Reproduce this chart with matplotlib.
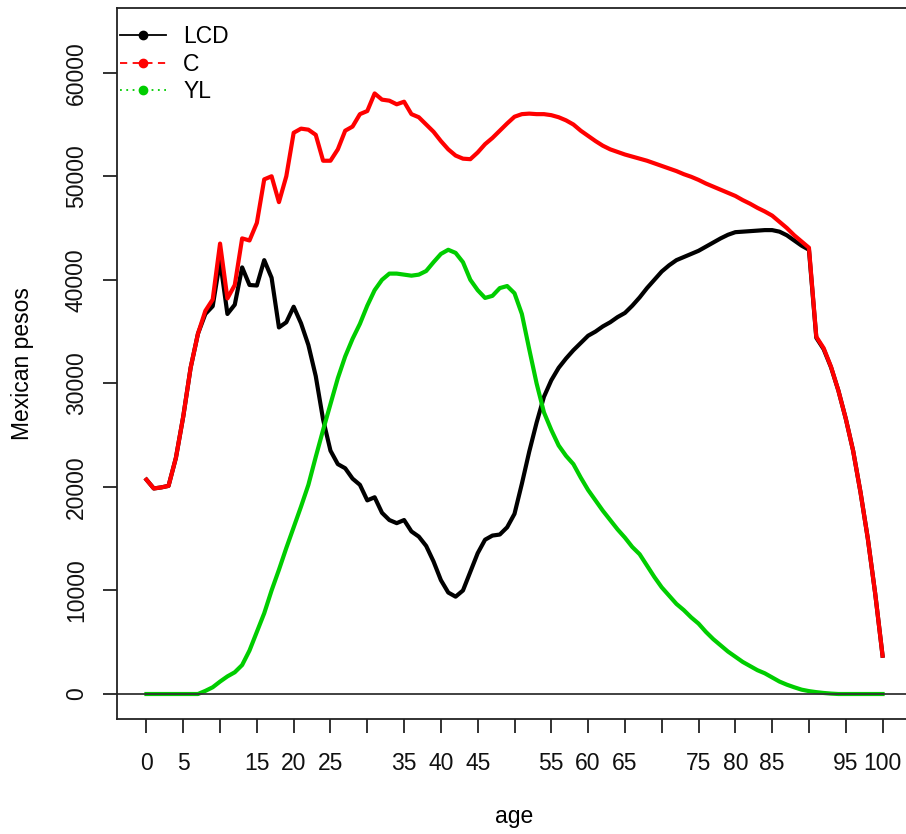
import matplotlib
matplotlib.use('Agg')
import matplotlib.pyplot as plt
from matplotlib.lines import Line2D
import numpy as np

plt.rcParams['font.family'] = ['Liberation Sans', 'DejaVu Sans']

# ages 0..100
age = list(range(0, 101))

C = [20700, 19850, 19950, 20100, 22800, 26800, 31500, 34800, 37000, 38100,
     43500, 38200, 39500, 44000, 43800, 45500, 49700, 50000, 47500, 50000,
     54200, 54600, 54500, 54000, 51500, 51500, 52600, 54400, 54800, 56000,
     56300, 58000, 57400, 57300, 56950, 57200, 56000, 55700, 55000, 54300,
     53400, 52600, 52000, 51700, 51650, 52300, 53100, 53700, 54400, 55100,
     55750, 56000, 56050, 56000, 56000, 55900, 55700, 55400, 55000, 54400,
     53900, 53400, 52950, 52600, 52350, 52100, 51900, 51700, 51500, 51250,
     51000, 50750, 50500, 50200, 49950, 49650, 49300, 49000, 48700, 48400,
     48100, 47700, 47350, 46950, 46600, 46200, 45600, 45000, 44300, 43700,
     43100, 34500, 33400, 31600, 29300, 26600, 23500, 19500, 15000, 9700,
     3700]

YL = [0, 0, 0, 0, 0, 0, 0, 0, 300, 650,
      1200, 1700, 2100, 2800, 4200, 6000, 7800, 10000, 12000, 14100,
      16100, 18100, 20200, 22900, 25500, 28000, 30500, 32600, 34300, 35750,
      37500, 39000, 40000, 40600, 40600, 40500, 40400, 40500, 40850, 41700,
      42500, 42900, 42600, 41700, 40000, 39000, 38250, 38450, 39200, 39400,
      38700, 36700, 33300, 30000, 27200, 25500, 24000, 23000, 22200, 20900,
      19700, 18700, 17700, 16800, 15900, 15100, 14200, 13500, 12400, 11300,
      10300, 9500, 8700, 8100, 7400, 6800, 6000, 5300, 4700, 4100,
      3600, 3100, 2700, 2300, 2000, 1600, 1200, 900, 650, 420,
      280, 180, 100, 40, 0, 0, 0, 0, 0, 0,
      0]

LCD = [20700, 19850, 19950, 20100, 22800, 26800, 31500, 34800, 36700, 37450,
       41850, 36700, 37600, 41200, 39500, 39450, 41900, 40200, 35400, 35900,
       37400, 35800, 33700, 30700, 26500, 23500, 22200, 21800, 20800, 20200,
       18700, 19000, 17500, 16800, 16500, 16800, 15700, 15200, 14300, 12800,
       11000, 9800, 9400, 10000, 11800, 13600, 14900, 15300, 15400, 16100,
       17400, 20300, 23400, 26200, 28700, 30300, 31500, 32400, 33200, 33900,
       34600, 35000, 35500, 35900, 36400, 36800, 37500, 38300, 39200, 40000,
       40800, 41400, 41900, 42200, 42500, 42800, 43200, 43600, 44000, 44350,
       44600, 44650, 44700, 44750, 44800, 44800, 44650, 44300, 43800, 43300,
       42900, 34400, 33300, 31550, 29300, 26600, 23500, 19500, 15000, 9700,
       3700]

x_tick_labels = ['0', '5', '15', '20', '25', '35', '40', '45', '55', '60', '65',
                 '75', '80', '85', '95', '100']
y_ticks = [0, 10000, 20000, 30000, 40000, 50000, 60000]

green = '#00CD00'
fs = 16.5

fig = plt.figure(figsize=(9.06, 8.34), dpi=100)
ax = fig.add_axes([117 / 906, 115 / 834, 795 / 906, 711 / 834])

ax.plot(age, LCD, color='black', lw=3)
ax.plot(age, C, color='red', lw=3)
ax.plot(age, YL, color=green, lw=3)
ax.axhline(0, color='#333333', lw=1.3)

ax.set_xlim(-4, 104)
ax.set_ylim(-2414, 66250)

ax.set_xticks(range(0, 101, 5))
labels = [str(v) if str(v) in x_tick_labels else '' for v in range(0, 101, 5)]
ax.set_xticklabels(labels)
ax.set_yticks(y_ticks)
ax.set_yticklabels([str(v) for v in y_ticks], rotation=90, va='center')

ax.tick_params(axis='both', direction='out', length=10, width=1.3,
               labelsize=fs, color='#222222', labelcolor='#111111')
ax.tick_params(axis='x', pad=13.5)
ax.tick_params(axis='y', pad=11)
for s in ax.spines.values():
    s.set_linewidth(1.3)
    s.set_color('#222222')

ax.set_xlabel('age', fontsize=fs, labelpad=22)
ax.set_ylabel('Mexican pesos', fontsize=fs, labelpad=22)

handles = [
    Line2D([], [], color='black', ls='-', lw=1.3, marker='o', ms=6),
    Line2D([], [], color='red', ls=(0, (4, 3)), lw=1.3, marker='o', ms=6),
    Line2D([], [], color=green, ls=(0, (1, 2.5)), lw=1.3, marker='o', ms=6),
]
ax.legend(handles, ['LCD', 'C', 'YL'], loc='upper left', frameon=False,
          fontsize=fs, handlelength=2.0, handletextpad=0.75, labelspacing=0.2,
          borderpad=0, borderaxespad=0, bbox_to_anchor=(0.004, 0.976))

fig.savefig('out.png', dpi=100)
